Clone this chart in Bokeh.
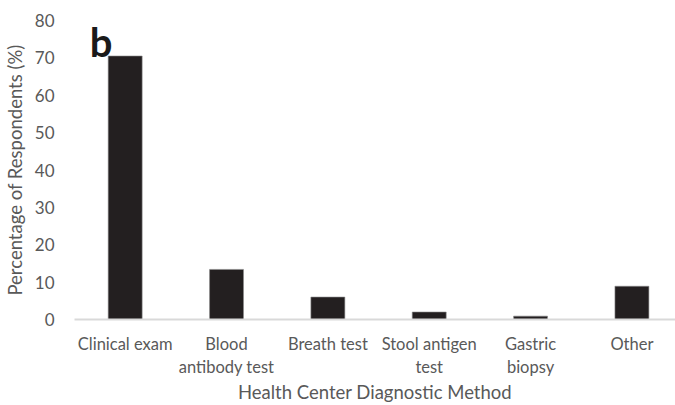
from bokeh.plotting import figure
from bokeh.models import Range1d, FixedTicker, Label, ColumnDataSource
from bokeh.embed import file_html
from bokeh.resources import INLINE
import numpy as np

categories = ["Clinical exam", "Blood\nantibody test", "Breath test",
              "Stool antigen\ntest", "Gastric\nbiopsy", "Other"]
values = [70.5, 13.4, 6.0, 2.0, 0.9, 8.9]
y_ticks = [0, 10, 20, 30, 40, 50, 60, 70, 80]

FONT = "Lato"
GRAY = "#595959"

xpos = np.arange(len(categories)) + 0.5
src = ColumnDataSource(dict(x=xpos, top=values))

p = figure(width=675, height=405, output_backend="svg", toolbar_location=None,
           x_range=Range1d(0, 5.93), y_range=Range1d(0, 80),
           min_border_left=65, min_border_right=0, min_border_top=20,
           min_border_bottom=77)
p.outline_line_color = None
p.xgrid.grid_line_color = None
p.ygrid.grid_line_color = None

p.vbar(x="x", top="top", width=0.335, bottom=0, source=src,
       fill_color="#231f20", line_color="#8a8a8a", line_width=0.6)

# x axis
xa = p.xaxis[0]
xa.ticker = FixedTicker(ticks=list(xpos))
xa.major_label_overrides = {float(x): c for x, c in zip(xpos, categories)}
xa.axis_line_color = "#d9d9d9"
xa.axis_line_width = 2
xa.major_tick_line_color = None
xa.minor_tick_line_color = None
xa.major_label_text_font = FONT
xa.major_label_text_font_size = "16.5px"
xa.major_label_text_color = GRAY
xa.major_label_text_line_height = 1.15
xa.major_label_standoff = 8
xa.axis_label = "Health Center Diagnostic Method"
xa.axis_label_text_font = FONT
xa.axis_label_text_font_size = "18.5px"
xa.axis_label_text_font_style = "normal"
xa.axis_label_text_color = GRAY
xa.axis_label_standoff = 1

# y axis
ya = p.yaxis[0]
ya.ticker = FixedTicker(ticks=y_ticks)
ya.axis_line_color = None
ya.major_tick_line_color = None
ya.minor_tick_line_color = None
ya.major_label_text_font = FONT
ya.major_label_text_font_size = "17px"
ya.major_label_text_color = GRAY
ya.major_label_standoff = 14
ya.axis_label = "Percentage of Respondents (%)"
ya.axis_label_text_font = FONT
ya.axis_label_text_font_size = "18.5px"
ya.axis_label_text_font_style = "normal"
ya.axis_label_text_color = GRAY
ya.axis_label_standoff = 6

p.add_layout(Label(x=0.15, y=74.3, text="b", text_font=FONT,
                   text_font_style="bold", text_font_size="40px",
                   text_color="#1a1a1a", text_baseline="alphabetic"))

open("out.html", "w").write(file_html(p, INLINE))
